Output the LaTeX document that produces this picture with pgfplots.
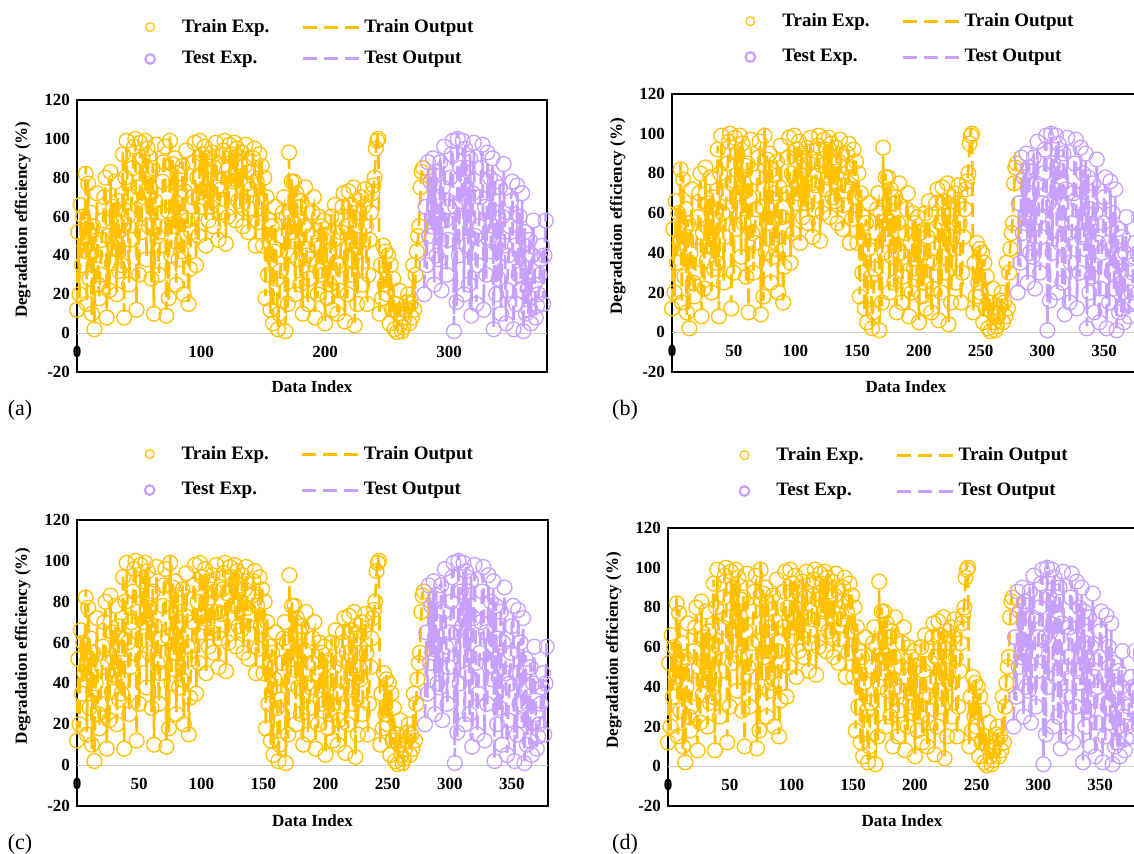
\documentclass[border=0pt]{standalone}
\usepackage{pgfplots}
\usepackage{pgfplotstable}
\pgfplotsset{compat=1.18}
\usepackage{fontspec}
\setmainfont{Liberation Serif}
\definecolor{gold}{HTML}{FFC000}
\definecolor{lav}{HTML}{C6A0FA}

\pgfplotstableread[row sep=\\]{
e o\\
12 15\\ 52 49\\ 20 18\\ 66 62\\ 35 39\\ 60 62\\
45 42\\ 82 86\\ 15 16\\ 77 79\\ 28 33\\ 62 58\\
10 8\\ 55 57\\ 2 5\\ 40 37\\ 72 68\\ 25 29\\
18 19\\ 30 35\\ 48 47\\ 58 54\\ 70 72\\ 80 76\\
8 11\\ 50 47\\ 22 20\\ 83 79\\ 36 40\\ 65 67\\
44 43\\ 78 74\\ 20 21\\ 68 70\\ 32 37\\ 57 53\\
35 33\\ 92 94\\ 8 11\\ 80 77\\ 99 95\\ 60 64\\
25 26\\ 48 53\\ 70 69\\ 85 81\\ 96 98\\ 100 96\\
12 15\\ 75 72\\ 30 28\\ 98 94\\ 52 56\\ 90 92\\
70 69\\ 99 95\\ 38 39\\ 95 97\\ 55 60\\ 84 80\\
28 26\\ 85 87\\ 10 13\\ 68 65\\ 97 93\\ 50 54\\
30 31\\ 45 50\\ 62 61\\ 78 74\\ 88 90\\ 96 92\\
9 12\\ 63 60\\ 18 16\\ 99 103\\ 40 44\\ 87 89\\
55 54\\ 90 86\\ 25 26\\ 82 84\\ 38 43\\ 70 66\\
42 40\\ 86 88\\ 20 23\\ 73 70\\ 94 90\\ 58 62\\
15 16\\ 33 38\\ 52 51\\ 70 66\\ 88 90\\ 98 94\\
35 38\\ 80 77\\ 50 48\\ 99 95\\ 65 69\\ 92 94\\
70 69\\ 96 92\\ 45 46\\ 90 92\\ 58 63\\ 82 78\\
65 63\\ 93 95\\ 55 58\\ 85 82\\ 98 94\\ 75 79\\
48 49\\ 62 67\\ 74 73\\ 86 82\\ 94 96\\ 99 95\\
46 49\\ 84 81\\ 60 58\\ 97 93\\ 72 76\\ 92 94\\
78 77\\ 98 94\\ 58 59\\ 95 97\\ 68 73\\ 88 84\\
66 64\\ 93 95\\ 55 58\\ 86 83\\ 97 93\\ 77 81\\
52 53\\ 64 69\\ 74 73\\ 83 79\\ 90 92\\ 95 91\\
45 48\\ 78 75\\ 57 55\\ 92 88\\ 68 72\\ 86 88\\
45 44\\ 80 76\\ 18 19\\ 70 72\\ 30 35\\ 58 54\\
12 10\\ 55 57\\ 5 8\\ 42 39\\ 65 61\\ 28 32\\
2 3\\ 10 15\\ 32 31\\ 50 46\\ 62 64\\ 70 66\\
1 4\\ 60 57\\ 15 13\\ 93 89\\ 40 44\\ 78 80\\
52 51\\ 78 74\\ 20 21\\ 72 74\\ 38 43\\ 65 61\\
25 23\\ 68 70\\ 10 13\\ 55 52\\ 75 71\\ 40 44\\
15 16\\ 28 33\\ 38 37\\ 50 46\\ 62 64\\ 70 66\\
8 11\\ 45 42\\ 20 18\\ 60 56\\ 32 36\\ 55 57\\
30 29\\ 58 54\\ 5 6\\ 50 52\\ 18 23\\ 40 36\\
25 23\\ 60 62\\ 12 15\\ 48 45\\ 66 62\\ 36 40\\
10 11\\ 22 27\\ 35 34\\ 52 48\\ 65 67\\ 72 68\\
6 9\\ 55 52\\ 20 18\\ 73 69\\ 38 42\\ 66 68\\
30 29\\ 75 71\\ 4 5\\ 62 64\\ 15 20\\ 48 44\\
42 40\\ 70 72\\ 25 28\\ 65 62\\ 74 70\\ 55 59\\
15 16\\ 30 35\\ 48 47\\ 62 58\\ 72 74\\ 76 72\\
80 83\\ 95 93\\ 99 103\\ 100 97\\
10 11\\ 35 31\\ 18 23\\ 45 41\\ 25 24\\ 42 44\\
20 24\\ 40 36\\ 5 8\\ 35 37\\ 12 10\\ 28 25\\
2 7\\ 15 17\\ 0.5 1.5\\ 10 6\\ 22 18\\ 5 4\\
1 4\\ 3 1\\ 8 12\\ 12 9\\ 16 18\\ 20 16\\
5 6\\ 15 11\\ 8 13\\ 35 31\\ 12 11\\ 30 32\\
42 45\\ 50 48\\ 55 59\\ 75 72\\ 83 85\\ 85 81\\
}\train

\pgfplotstableread[row sep=\\]{
e o\\
20 23\\ 65 62\\ 35 33\\ 88 84\\ 50 54\\ 78 80\\
55 54\\ 90 86\\ 25 26\\ 83 85\\ 40 45\\ 70 66\\
38 36\\ 88 90\\ 22 25\\ 75 72\\ 96 92\\ 58 62\\
30 31\\ 48 53\\ 65 64\\ 80 76\\ 92 94\\ 99 95\\
1 4\\ 65 62\\ 16 14\\ 100 104\\ 40 44\\ 85 87\\
68 67\\ 99 95\\ 20 21\\ 95 97\\ 45 50\\ 85 81\\
25 23\\ 90 92\\ 9 12\\ 72 69\\ 98 94\\ 50 54\\
15 16\\ 35 40\\ 55 54\\ 70 66\\ 85 87\\ 97 93\\
12 15\\ 65 62\\ 30 28\\ 93 89\\ 48 52\\ 80 82\\
42 41\\ 90 86\\ 2 3\\ 78 80\\ 20 25\\ 62 58\\
28 26\\ 75 77\\ 10 13\\ 60 57\\ 87 83\\ 45 49\\
5 6\\ 22 27\\ 40 39\\ 55 51\\ 68 70\\ 78 74\\
2 5\\ 45 42\\ 15 13\\ 76 72\\ 30 34\\ 60 62\\
22 21\\ 72 68\\ 1 2\\ 52 54\\ 10 15\\ 38 34\\
12 10\\ 48 50\\ 5 8\\ 40 37\\ 58 54\\ 25 29\\
8 9\\ 14 19\\ 20 19\\ 30 26\\ 38 40\\ 45 41\\
15 18\\ 40 38\\ 58 62\\
}\test

\pgfplotsset{
  panel/.style={
    scale only axis,
    xmin=0, xmax=379, ymin=-20, ymax=120,
    ytick={-20,0,...,120},
    major tick length=0pt,
    axis line style={line width=0.9pt},
    tick label style={font=\fontsize{8.5}{10}\selectfont\bfseries},
    /pgf/number format/assume math mode=true,
    extra y ticks={0}, extra y tick labels={},
    extra y tick style={grid=major, major grid style={gray!40, line width=0.6pt}},
    xlabel={Data Index},
    ylabel={Degradation efficiency (\%)},
    label style={font=\fontsize{8.5}{10}\selectfont\bfseries},
    xlabel style={at={(axis description cs:0.5,0)}, anchor=north, yshift=-1pt},
    ylabel style={at={(ticklabel cs:0.56)}},
    clip=false,
    legend columns=2,
    legend cell align=left,
    legend style={draw=none, fill=none, anchor=center,
      font=\fontsize{9.5}{11}\selectfont\bfseries,
      /tikz/every even column/.append style={column sep=14pt}},
  },
  expmark/.style={only marks, mark=o, mark size=3.7pt, mark options={line width=0.65pt}},
  outline/.style={no marks, line width=1.35pt, dash pattern=on 7pt off 3.5pt,
    legend image code/.code={\draw[##1, line width=1.5pt] (0pt,0pt) -- (28pt,0pt);}},
}

\newcommand{\panel}[9]{%
\begin{axis}[panel, at={(#1,#2)}, anchor=south west, width=#3, height=#4,
  xtick={#5}, xticklabel style={yshift=#6},
  legend style={at={(#7,#8)}, row sep=#9}]
\addplot[expmark, gold, legend image code/.code={\draw[draw=none] (0pt,0pt) -- (28pt,0pt);\draw[gold, line width=0.6pt, fill=none] (14pt,0pt) circle[radius=2.2pt];}]
  table[x expr=\coordindex, y=e]{\train};
\addlegendentry{Train Exp.}
\addplot[outline, gold] table[x expr=\coordindex, y=o]{\train};
\addlegendentry{Train Output}
\addplot[expmark, lav, legend image code/.code={\draw[draw=none] (0pt,0pt) -- (28pt,0pt);\draw[lav, line width=1.1pt, fill=none] (14pt,0pt) circle[radius=2.4pt];}]
  table[x expr=\coordindex+280, y=e]{\test};
\addlegendentry{Test Exp.}
\addplot[outline, lav] table[x expr=\coordindex+280, y=o]{\test};
\addlegendentry{Test Output}
\end{axis}}

\begin{document}
\begin{tikzpicture}
\useasboundingbox (0,0) rectangle (567pt,427pt);
\clip (0,0) rectangle (567pt,427pt);
\panel{38.5pt}{241pt}{235pt}{136pt}{0,100,...,300}{16.4pt}{0.474}{1.21}{4pt}
\panel{336pt}{241pt}{234pt}{139pt}{0,50,...,350}{16.9pt}{0.487}{1.198}{6pt}
\panel{38.5pt}{24pt}{235.5pt}{143pt}{0,50,...,350}{17.4pt}{0.472}{1.168}{6pt}
\panel{334pt}{24pt}{234pt}{139pt}{0,50,...,350}{16.9pt}{0.483}{1.198}{6pt}
\node[font=\fontsize{11}{13}\selectfont] at (10pt,222pt) {(a)};
\node[font=\fontsize{11}{13}\selectfont] at (312.5pt,222pt) {(b)};
\node[font=\fontsize{11}{13}\selectfont] at (10pt,5pt) {(c)};
\node[font=\fontsize{11}{13}\selectfont] at (312.5pt,5pt) {(d)};
\end{tikzpicture}
\end{document}
